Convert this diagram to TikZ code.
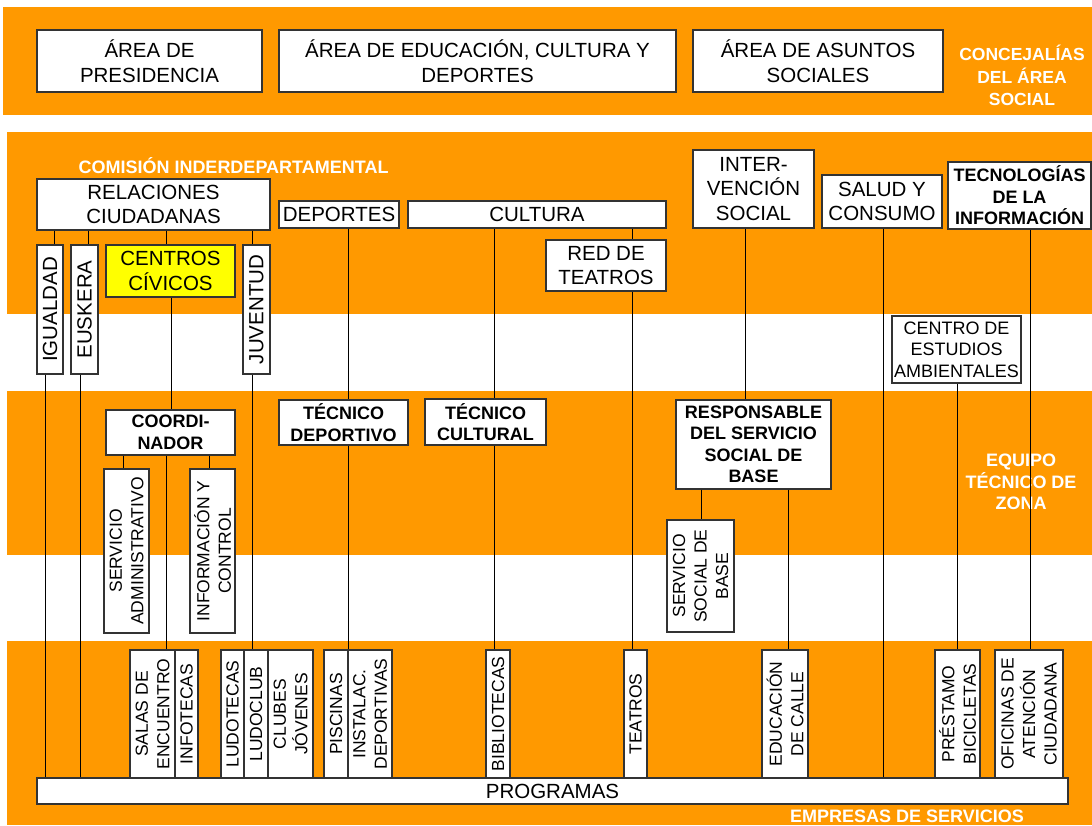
\documentclass[tikz,border=0pt]{standalone}
\usepackage{fontspec}
\setmainfont{Liberation Sans}
\definecolor{orng}{RGB}{255,153,0}
\definecolor{ylw}{RGB}{255,255,0}
\newcommand{\fnorm}{\fontsize{20.5}{24.5}\selectfont}
\newcommand{\fbold}{\fontsize{18}{21.5}\selectfont\bfseries}
\newcommand{\fsmall}{\fontsize{17.5}{21.5}\selectfont}
\newcommand{\vl}[3]{\draw[conn] (#1 -| #3,0) -- (#2 -| #3,0);}
\begin{document}
\begin{tikzpicture}[x=1pt,y=-1pt,
  box/.style={draw=black!80, line width=1.2pt, fill=white, inner sep=0pt, align=center, font=\fnorm},
  bbox/.style={box, font=\fbold},
  vbox/.style={box, rotate=90, font=\fsmall},
  wlab/.style={text=white, font=\fbold, align=center, inner sep=0pt},
  conn/.style={draw=black, line width=1pt},
  band/.style={fill=orng, draw=none}]
\useasboundingbox (0,0) rectangle (1092,825);
% bands
\fill[band] (3,7) rectangle (1092,115);
\fill[band] (7,132) rectangle (1092,314);
\fill[band] (7,391) rectangle (1092,555);
\fill[band] (7,641) rectangle (1092,825);
% labels
\node[wlab, font=\fontsize{17.5}{22.5}\selectfont\bfseries] (conc) at (1022,75.5) {CONCEJALÍAS\\DEL ÁREA\\SOCIAL};
\node[wlab] (com) at (233.5,166) {COMISIÓN INDERDEPARTAMENTAL};
\node[wlab] (equipo) at (1021,482) {EQUIPO\\TÉCNICO DE\\ZONA};
\node[wlab] (emp) at (907,816) {EMPRESAS DE SERVICIOS};
% top boxes
\node[box, minimum width=225pt, minimum height=62pt] (pres) at (149.5,61) {ÁREA DE\\PRESIDENCIA};
\node[box, minimum width=397pt, minimum height=62pt] (edu) at (477.5,61) {ÁREA DE EDUCACIÓN, CULTURA Y\\DEPORTES};
\node[box, minimum width=250pt, minimum height=62pt] (asun) at (818,61) {ÁREA DE ASUNTOS\\SOCIALES};
% second band
\node[box, minimum width=233pt, minimum height=51pt] (rel) at (153.5,204.5) {RELACIONES\\CIUDADANAS};
\node[box, minimum width=120pt, minimum height=27pt] (dep) at (339,214.5) {DEPORTES};
\node[box, minimum width=258pt, minimum height=27pt] (cult) at (537,214.5) {CULTURA};
\node[box, minimum width=120pt, minimum height=51pt] (redt) at (606,265.5) {RED DE\\TEATROS};
\node[box, minimum width=121pt, minimum height=78pt] (inter) at (753.5,189) {INTER-\\VENCIÓN\\SOCIAL};
\node[box, minimum width=120pt, minimum height=53pt] (salud) at (882,201.5) {SALUD Y\\CONSUMO};
\node[bbox, minimum width=143pt, minimum height=67pt] (tecno) at (1019.5,195.5) {TECNOLOGÍAS\\DE LA\\INFORMACIÓN};
\node[vbox, font=\fnorm, minimum width=129pt, minimum height=26pt] (igu) at (50,309.5) {IGUALDAD};
\node[vbox, font=\fnorm, minimum width=129pt, minimum height=27pt] (eus) at (84.5,309.5) {EUSKERA};
\node[box, fill=ylw, minimum width=129pt, minimum height=52pt] (cc) at (170.5,271) {CENTROS\\CÍVICOS};
\node[vbox, font=\fnorm, minimum width=129pt, minimum height=27pt] (juv) at (256.5,309.5) {JUVENTUD};
\node[box, font=\fontsize{18}{21.5}\selectfont, minimum width=129pt, minimum height=67pt] (cea) at (956.5,349.5) {CENTRO DE\\ESTUDIOS\\AMBIENTALES};
% middle band
\node[bbox, minimum width=129pt, minimum height=45pt] (coord) at (170.5,432.5) {COORDI-\\NADOR};
\node[vbox, minimum width=164pt, minimum height=45pt] (sadm) at (126.5,551) {SERVICIO\\ADMINISTRATIVO};
\node[vbox, minimum width=164pt, minimum height=45pt] (info) at (212.5,551) {INFORMACIÓN Y\\CONTROL};
\node[bbox, minimum width=129pt, minimum height=45pt] (tdep) at (343.5,422.5) {TÉCNICO\\DEPORTIVO};
\node[bbox, minimum width=121pt, minimum height=46pt] (tcul) at (485.5,422) {TÉCNICO\\CULTURAL};
\node[bbox, minimum width=155pt, minimum height=89pt] (resp) at (753.5,444.5) {RESPONSABLE\\DEL SERVICIO\\SOCIAL DE\\BASE};
\node[vbox, minimum width=112pt, minimum height=67pt] (ssb) at (700.5,576) {SERVICIO\\SOCIAL DE\\BASE};
% bottom
\node[box, minimum width=1031pt, minimum height=26pt] (prog) at (552.5,791) {PROGRAMAS};
\node[vbox, minimum width=128pt, minimum height=45pt] (salas) at (152.5,714) {SALAS DE\\ENCUENTRO};
\node[vbox, minimum width=128pt, minimum height=23pt] (infot) at (186.5,714) {INFOTECAS};
\node[vbox, minimum width=128pt, minimum height=23pt] (ludot) at (232.5,714) {LUDOTECAS};
\node[vbox, minimum width=128pt, minimum height=24pt] (ludoc) at (256,714) {LUDOCLUB};
\node[vbox, minimum width=128pt, minimum height=45pt] (clubes) at (290.5,714) {CLUBES\\JÓVENES};
\node[vbox, minimum width=128pt, minimum height=24pt] (pisc) at (336,714) {PISCINAS};
\node[vbox, minimum width=128pt, minimum height=44pt] (inst) at (370,714) {INSTALAC.\\DEPORTIVAS};
\node[vbox, minimum width=128pt, minimum height=24pt] (bib) at (498,714) {BIBLIOTECAS};
\node[vbox, minimum width=128pt, minimum height=23pt] (teat) at (635.5,714) {TEATROS};
\node[vbox, minimum width=128pt, minimum height=46pt] (educ) at (785,714) {EDUCACIÓN\\DE CALLE};
\node[vbox, minimum width=128pt, minimum height=45pt] (prest) at (957.5,714) {PRÉSTAMO\\BICICLETAS};
\node[vbox, minimum width=128pt, minimum height=68pt] (ofic) at (1029,714) {OFICINAS DE\\ATENCIÓN\\CIUDADANA};
% connectors
\vl{rel.south}{igu.east}{54}
\vl{rel.south}{eus.east}{88}
\vl{rel.south}{cc.north}{166}
\vl{rel.south}{juv.east}{252}
\vl{igu.west}{prog.north}{45}
\vl{eus.west}{prog.north}{80}
\vl{cc.south}{coord.north}{171}
\vl{juv.west}{ludoc.east}{252}
\vl{coord.south}{sadm.east}{123}
\vl{coord.south}{info.east}{209}
\vl{coord.south}{salas.east}{166}
\vl{dep.south}{tdep.north}{348}
\vl{tdep.south}{inst.east}{348}
\vl{cult.south}{tcul.north}{494}
\vl{tcul.south}{bib.east}{494}
\vl{cult.south}{redt.north}{632}
\vl{redt.south}{teat.east}{632}
\vl{inter.south}{resp.north}{745}
\vl{resp.south}{ssb.east}{701}
\vl{resp.south}{educ.east}{788}
\vl{salud.south}{prog.north}{883}
\vl{tecno.south}{ofic.east}{1030}
\vl{cea.south}{prest.east}{957}
\end{tikzpicture}
\end{document}
